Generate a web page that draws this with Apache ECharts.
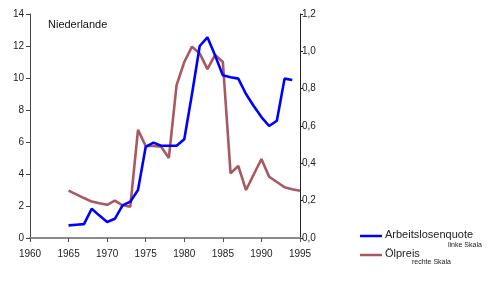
<!DOCTYPE html>
<html><head><meta charset="utf-8">
<script src="https://cdn.jsdelivr.net/npm/echarts@6/dist/echarts.min.js"></script>
<style>html,body{margin:0;padding:0;background:#fff}#c{width:500px;height:282px}</style>
</head><body><div id="c"></div>
<script>
var title = 'Niederlande';
var xTicks = [1960, 1965, 1970, 1975, 1980, 1985, 1990, 1995];
var leftTicks = [0, 2, 4, 6, 8, 10, 12, 14];
var rightTicks = ['0,0', '0,2', '0,4', '0,6', '0,8', '1,0', '1,2'];

var yearsUnemp = [1965,1966,1967,1968,1969,1970,1971,1972,1973,1974,1975,1976,1977,1978,1979,1980,1981,1982,1983,1984,1985,1986,1987,1988,1989,1990,1991,1992,1993,1994];
var unemployment = [0.79,0.83,0.87,1.83,1.4,1.0,1.2,2.04,2.27,3.0,5.7,5.96,5.77,5.77,5.77,6.17,9.0,12.0,12.54,11.4,10.17,10.05,9.96,9.0,8.25,7.56,7.0,7.33,9.96,9.88];

var yearsOil = [1965,1966,1967,1968,1969,1970,1971,1972,1973,1974,1975,1976,1977,1978,1979,1980,1981,1982,1983,1984,1985,1986,1987,1988,1989,1990,1991,1992,1993,1994,1995];
var oilPrice = [0.254,0.234,0.214,0.195,0.186,0.178,0.2,0.175,0.168,0.579,0.493,0.493,0.489,0.429,0.819,0.943,1.025,0.989,0.905,0.981,0.943,0.346,0.386,0.257,0.34,0.423,0.328,0.3,0.272,0.261,0.253];

var seriesNames = ['Arbeitslosenquote', 'Ölpreis'];
var seriesSub = ['linke Skala', 'rechte Skala'];
var colors = ['#0000ff', '#a85860'];

function pairs(xs, ys){ return xs.map(function(x,i){ return [x, ys[i]]; }); }

var font = 'Liberation Sans, Arial, sans-serif';
var chart = echarts.init(document.getElementById('c'), null, {renderer:'canvas'});
chart.setOption({
  animation: false,
  textStyle: {fontFamily: font},
  grid: {left: 30, right: 200, top: 14, bottom: 44, containLabel: false},
  xAxis: {
    type: 'value', min: 1960, max: 1995, interval: 5,
    axisLine: {show: true, onZero: false, lineStyle: {color: '#8a8a8a', width: 2}},
    axisTick: {show: true, length: 4, lineStyle: {color: '#555', width: 1}},
    axisLabel: {color: '#222', fontSize: 10, margin: 11, fontFamily: font, formatter: function(v){ return String(v); }},
    splitLine: {show: false}
  },
  yAxis: [{
    type: 'value', min: 0, max: 14, interval: 2, position: 'left',
    axisLine: {show: true, onZero: false, lineStyle: {color: '#444', width: 1}},
    axisTick: {show: true, length: 4, lineStyle: {color: '#444'}},
    axisLabel: {color: '#222', fontSize: 10, margin: 6, fontFamily: font},
    splitLine: {show: false}
  }, {
    type: 'value', min: 0, max: 1.2, interval: 0.2, position: 'right',
    axisLine: {show: true, onZero: false, lineStyle: {color: '#222', width: 1}},
    axisTick: {show: true, length: 3, lineStyle: {color: '#222'}},
    axisLabel: {color: '#222', fontSize: 10, margin: 2, fontFamily: font,
      formatter: function(v){ return rightTicks[Math.round(v/0.2)]; }},
    splitLine: {show: false}
  }],
  series: [{
    name: seriesNames[1], type: 'line', yAxisIndex: 1, data: pairs(yearsOil, oilPrice),
    showSymbol: false, lineStyle: {color: colors[1], width: 2.6}, itemStyle: {color: colors[1]}, z: 2
  }, {
    name: seriesNames[0], type: 'line', yAxisIndex: 0, data: pairs(yearsUnemp, unemployment),
    showSymbol: false, lineStyle: {color: colors[0], width: 2.6}, itemStyle: {color: colors[0]}, z: 3
  }],
  graphic: [
    {type: 'text', left: 48, top: 19, style: {text: title, fill: '#111', font: '11px ' + font}},
    {type: 'line', shape: {x1: 360, y1: 236, x2: 382, y2: 236}, style: {stroke: colors[0], lineWidth: 2.5}},
    {type: 'text', left: 385, top: 229, style: {text: seriesNames[0], fill: '#222', font: '11px ' + font}},
    {type: 'text', left: 448, top: 242, style: {text: seriesSub[0], fill: '#222', font: '7px ' + font}},
    {type: 'line', shape: {x1: 360, y1: 255, x2: 382, y2: 255}, style: {stroke: colors[1], lineWidth: 2.5}},
    {type: 'text', left: 385, top: 248, style: {text: seriesNames[1], fill: '#222', font: '11px ' + font}},
    {type: 'text', left: 412, top: 259, style: {text: seriesSub[1], fill: '#222', font: '7px ' + font}}
  ]
});
</script></body></html>
